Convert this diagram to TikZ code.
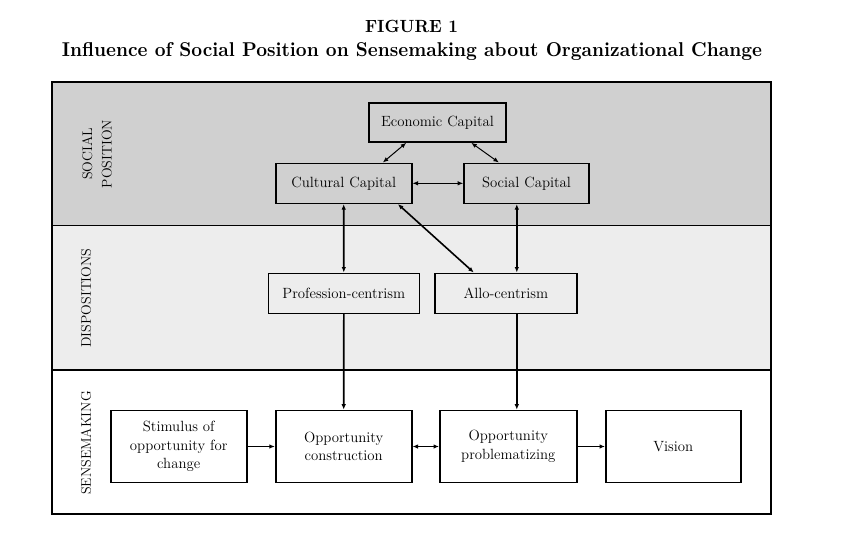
\documentclass[tikz,border=0pt]{standalone}
\usetikzlibrary{arrows.meta,calc}
\definecolor{bandtop}{RGB}{208,208,208}
\definecolor{bandmid}{RGB}{237,237,237}
\begin{document}
\begin{tikzpicture}[x=1pt,y=-1pt,
  box/.style={draw=black, line width=1.6pt, inner sep=2pt, align=center,
    font=\fontsize{14.8}{18.5}\selectfont},
  bandlabel/.style={rotate=90, align=center, inner sep=0pt,
    font=\fontsize{14}{19.5}\selectfont},
  tip/.tip={Latex[length=5.5pt,width=4.5pt]},
  thinlink/.style={line width=1pt, tip-tip},
  thicklink/.style={line width=1.6pt, tip-tip},
  flow/.style={line width=1.6pt, -tip}]
\useasboundingbox (0,0) rectangle (842,539);

% title
\node[anchor=base, inner sep=0pt] (fig) at (411.5,32.3)
  {\resizebox{93pt}{12.3pt}{\bfseries FIGURE 1}};
\node[anchor=base, inner sep=0pt] (title) at (412,56.5)
  {\resizebox{700pt}{14pt}{\bfseries Influence of Social Position on Sensemaking about Organizational Change}};

% horizontal bands
\fill[bandtop] (52,82) rectangle (771,225.7);
\fill[bandmid] (52,225.7) rectangle (771,370);
\draw[line width=1.5pt] (52,225.7) -- (771,225.7);
\draw[line width=1.5pt] (52,370) -- (771,370);
\draw[line width=1.8pt] (52,82) rectangle (771,514);

% band labels
\node[bandlabel] (lsoc) at (97,154) {SOCIAL\\POSITION};
\node[bandlabel] (ldis) at (86,298) {DISPOSITIONS};
\node[bandlabel] (lsen) at (86,443) {SENSEMAKING};

% social position
\node[box, minimum width=137pt, minimum height=39pt] (econ) at (437.5,122.5) {Economic Capital};
\node[box, minimum width=136pt, minimum height=40pt] (cult) at (343.7,183.3) {Cultural Capital};
\node[box, minimum width=125pt, minimum height=40pt] (soc) at (526.5,183.3) {Social Capital};

% dispositions
\node[box, minimum width=151pt, minimum height=40pt] (prof) at (343.8,293.3) {Profession-centrism};
\node[box, minimum width=142pt, minimum height=40pt] (allo) at (505.8,293.3) {Allo-centrism};

% sensemaking
\node[box, minimum width=136pt, minimum height=72pt] (stim) at (178.7,446.5) {Stimulus of\\opportunity for\\change};
\node[box, minimum width=136pt, minimum height=72pt] (oppc) at (343.7,446.5) {Opportunity\\construction};
\node[box, minimum width=137pt, minimum height=72pt] (oppp) at (508.3,446.5) {Opportunity\\problematizing};
\node[box, minimum width=135pt, minimum height=72pt] (vis) at (673.3,446.5) {Vision};

% links among the capitals
\draw[thinlink] (econ.213) -- (cult.28);
\draw[thinlink] (econ.-31) -- (soc.143);
\draw[thinlink] (cult) -- (soc);

% capitals to dispositions
\draw[thicklink] (cult.south) -- (prof.north);
\draw[thicklink] (cult.-21) -- (allo.147);
\draw[thicklink] (soc.245) -- (soc.245 |- allo.north);

% dispositions to sensemaking
\draw[flow] (prof.south) -- (oppc.north);
\draw[flow] (soc.245 |- allo.south) -- (soc.245 |- oppp.north);

% sensemaking sequence
\draw[flow] (stim) -- (oppc);
\draw[thicklink] (oppc) -- (oppp);
\draw[flow] (oppp) -- (vis);
\end{tikzpicture}
\end{document}
